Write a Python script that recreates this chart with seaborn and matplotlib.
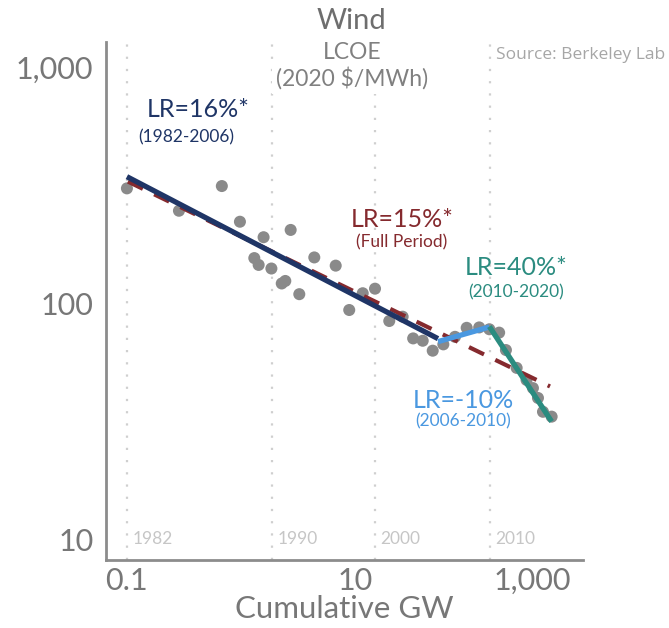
import numpy as np
import pandas as pd
import matplotlib
matplotlib.use("Agg")
import matplotlib.pyplot as plt
import matplotlib.transforms as mtransforms
import seaborn as sns

# Wind LCOE vs cumulative installed capacity
cum_gw = [0.1, 0.286, 0.68, 0.98, 1.31, 1.43, 1.58, 1.85, 2.28, 2.45, 2.73, 3.25,
          4.40, 6.78, 8.91, 11.7, 15.0, 20.0, 26.2, 32.4, 39.3, 48.1, 59.6, 75.4,
          95.5, 123, 151, 184, 211, 262, 320, 364, 403, 446, 531]
lcoe = [306, 246, 313, 221, 155, 145, 190, 140, 121, 124, 204, 109,
        156, 144, 93.4, 110, 115, 83.9, 87.5, 70.8, 69.2, 62.8, 66.8, 71.9,
        78.5, 78.8, 77.4, 74.9, 63.2, 53.1, 47.2, 43.6, 39.6, 34.6, 33.0]

# Learning-rate fits: start/end capacity, starting LCOE, learning rate
fit_names = ["1982-2006", "Full Period", "2006-2010", "2010-2020"]
fit_x0 = [0.1, 0.102, 53.5, 151]
fit_x1 = [53.5, 514, 151, 531]
fit_y0 = [343, 327, 68.6, 79.5]
fit_lr = [0.16, 0.15, -0.10, 0.40]

# Vertical year markers (cumulative GW reached in that year)
year_labels = ["1982", "1990", "2000", "2010"]
year_gw = [0.1, 1.87, 15.0, 153]

navy = "#1f3566"
red = "#852a2e"
lblue = "#4a98e0"
teal = "#2b8c80"
grey_txt = "#777777"

sns.set_theme(style="white")
plt.rcParams["font.family"] = ["Lato", "DejaVu Sans"]

fig = plt.figure(figsize=(6.69, 6.28), dpi=100)
ax = fig.add_axes([0.1584, 0.1083, 0.713, 0.8248])
ax.set_xscale("log")
ax.set_yscale("log")
ax.set_xlim(0.0655, 1000)
ax.set_ylim(8.15, 1276)

for gw in year_gw:
    ax.axvline(gw, color="#cfcfcf", lw=1.6, ls=(0, (1, 4.5)), zorder=1)
for lab, gw in zip(year_labels, year_gw):
    ax.annotate(lab, (gw, 10), xytext=(4, 0), textcoords="offset points",
                ha="left", va="center", fontsize=12.5, color="#c6c6c6")

pts = pd.DataFrame({"gw": cum_gw, "lcoe": lcoe})
sns.scatterplot(data=pts, x="gw", y="lcoe", ax=ax, s=75, color="#8a8a8a",
                edgecolor="none", zorder=2, legend=False)

rows = []
for name, x0, x1, y0, lr in zip(fit_names, fit_x0, fit_x1, fit_y0, fit_lr):
    b = np.log2(1 - lr)
    y1 = y0 * (x1 / x0) ** b
    rows.append(pd.DataFrame({"gw": [x0, x1], "lcoe": [y0, y1], "fit": name}))
fits = pd.concat(rows, ignore_index=True)

styles = {"Full Period": (red, 3.0, 3), "1982-2006": (navy, 3.8, 4),
          "2006-2010": (lblue, 3.8, 4), "2010-2020": (teal, 3.8, 4)}
for name in fit_names:
    col, lw, z = styles[name]
    sub = fits[fits["fit"] == name]
    sns.lineplot(data=sub, x="gw", y="lcoe", ax=ax, color=col, lw=lw,
                 legend=False, sort=False, zorder=z)
    if name == "Full Period":
        ax.lines[-1].set_dashes((4, 3))
        ax.lines[-1].set_dash_capstyle("butt")
    else:
        ax.lines[-1].set_solid_capstyle("butt")

# fit annotations
ax.text(0.42, 658, "LR=16%*", color=navy, fontsize=18, ha="center", va="center")
ax.text(0.33, 505, "(1982-2006)", color=navy, fontsize=12.5, ha="center", va="center")
ax.text(25.8, 225, "LR=15%*", color=red, fontsize=18, ha="center", va="center")
ax.text(25.8, 180, "(Full Period)", color=red, fontsize=12.5, ha="center", va="center")
ax.text(258, 141, "LR=40%*", color=teal, fontsize=18, ha="center", va="center")
ax.text(258, 111, "(2010-2020)", color=teal, fontsize=12.5, ha="center", va="center")
ax.text(88.5, 38.8, "LR=-10%", color=lblue, fontsize=18, ha="center", va="center")
ax.text(88.5, 31.6, "(2006-2010)", color=lblue, fontsize=12.5, ha="center", va="center")

# axes styling
for side in ["top", "right"]:
    ax.spines[side].set_visible(False)
for side in ["left", "bottom"]:
    ax.spines[side].set_color("#8c8c8c")
    ax.spines[side].set_linewidth(2.0)

ax.set_yticks([10, 100, 1000])
ax.set_yticklabels(["10", "100", "1,000"])
ax.set_xticks([0.1, 10, 1000])
ax.set_xticklabels(["0.1", "10", "1,000"])
ax.minorticks_off()
ax.tick_params(axis="both", length=0, labelsize=22, labelcolor=grey_txt)
ax.tick_params(axis="y", pad=9)
ax.tick_params(axis="x", pad=5)
last = ax.get_xticklabels()[-1]
last.set_ha("right")
last.set_transform(last.get_transform() +
                   mtransforms.ScaledTranslation(-0.12, 0, fig.dpi_scale_trans))
ax.set_xlabel("Cumulative GW", fontsize=22.5, color=grey_txt, labelpad=0)
ax.set_ylabel("")

# titles
box = dict(facecolor="white", edgecolor="none", pad=3)
fig.text(0.526, 0.966, "Wind", fontsize=21, color="#6e6e6e", ha="center", va="center")
fig.text(0.526, 0.917, "LCOE", fontsize=16.5, color="#808080", ha="center", va="center", bbox=box)
fig.text(0.526, 0.875, "(2020 $/MWh)", fontsize=16.5, color="#808080", ha="center", va="center", bbox=box)
fig.text(0.741, 0.912, "Source: Berkeley Lab", fontsize=12.5, color="#a6a6a6",
         ha="left", va="center", family=["Open Sans", "DejaVu Sans"])

fig.savefig("out.png", dpi=100, facecolor="white")
